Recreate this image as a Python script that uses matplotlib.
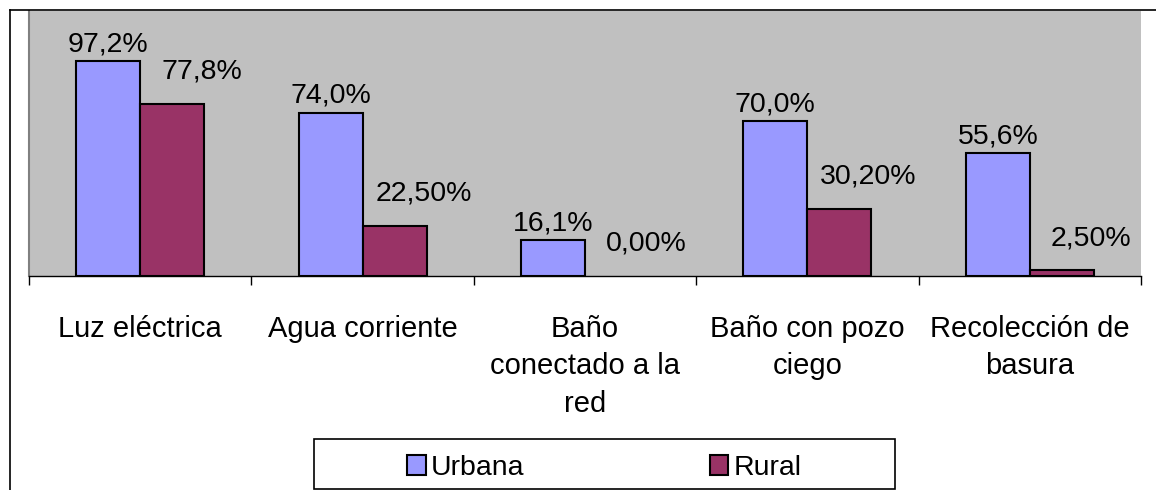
import matplotlib
matplotlib.use("Agg")
import matplotlib.pyplot as plt
from matplotlib.lines import Line2D
from matplotlib.patches import Rectangle
import numpy as np

categories = ["Luz eléctrica", "Agua corriente", "Baño\nconectado a la\nred",
              "Baño con pozo\nciego", "Recolección de\nbasura"]
urbana = [97.2, 74.0, 16.1, 70.0, 55.6]
rural = [77.8, 22.5, 0.0, 30.2, 2.5]
urbana_labels = ["97,2%", "74,0%", "16,1%", "70,0%", "55,6%"]
rural_labels = ["77,8%", "22,50%", "0,00%", "30,20%", "2,50%"]
series_names = ["Urbana", "Rural"]

plt.rcParams['font.family'] = ['Liberation Sans', 'DejaVu Sans']
FS = 20.5
FS_TICK = 21

W, H = 1156, 490
fig = plt.figure(figsize=(W / 100, H / 100), dpi=100)
ax = fig.add_axes([29 / W, 1 - 276 / H, (1141 - 29) / W, (276 - 11) / H])
ax.set_facecolor("#C0C0C0")

x = np.arange(len(categories))
bw = 0.288
b1 = ax.bar(x - bw / 2, urbana, bw, color="#9999FF", edgecolor="black", linewidth=1.5, label=series_names[0])
b2 = ax.bar(x + bw / 2, rural, bw, color="#993366", edgecolor="black", linewidth=1.5, label=series_names[1])
for patch, v in zip(b2.patches, rural):
    if v == 0:
        patch.set_linewidth(0)

for xi, v, lab in zip(x, urbana, urbana_labels):
    ax.annotate(lab, (xi - bw / 2, v), xytext=(0, 3), textcoords="offset points",
                ha="center", va="bottom", fontsize=FS)
for xi, v, lab in zip(x, rural, rural_labels):
    ax.annotate(lab, (xi + bw / 2, v), xytext=(21, 14), textcoords="offset points",
                ha="center", va="bottom", fontsize=FS)

ax.set_xlim(-0.5, len(categories) - 0.5)
ax.set_ylim(0, 120)
ax.set_yticks([])
ax.set_xticks(x)
ax.set_xticklabels(categories, fontsize=FS_TICK, linespacing=1.43)
ax.set_xticks(np.arange(-0.5, len(categories), 1.0), minor=True)
ax.tick_params(axis="x", which="major", length=0, pad=28)
ax.tick_params(axis="x", which="minor", length=6.5, width=1, color="black")

for side in ["top", "right"]:
    ax.spines[side].set_visible(False)
ax.spines["left"].set_color("#808080")
ax.spines["left"].set_linewidth(1.5)
ax.spines["bottom"].set_color("black")
ax.spines["bottom"].set_linewidth(1)

# outer chart frame
fig.add_artist(Line2D([10 / W, 10 / W], [0, 1 - 10 / H], color="black", linewidth=1.2, transform=fig.transFigure))
fig.add_artist(Line2D([10 / W, 1], [1 - 10 / H, 1 - 10 / H], color="black", linewidth=1.2, transform=fig.transFigure))

# legend frame
lx0, lx1, ly0, ly1 = 314, 895, 439, 489
fig.add_artist(Rectangle((lx0 / W, 1 - ly1 / H), (lx1 - lx0) / W, (ly1 - ly0) / H,
                         transform=fig.transFigure, facecolor="white", edgecolor="black", linewidth=1.2))
leg = fig.legend(handles=[b1, b2], labels=series_names, loc="center",
                 bbox_to_anchor=((lx0 + lx1) / 2 / W, 1 - ((ly0 + ly1) / 2 + 4) / H),
                 ncol=2, frameon=False, fontsize=FS, handlelength=0.65, handleheight=0.65,
                 handletextpad=0.2, columnspacing=6.5, borderpad=0)

fig.savefig("out.png", dpi=100)
